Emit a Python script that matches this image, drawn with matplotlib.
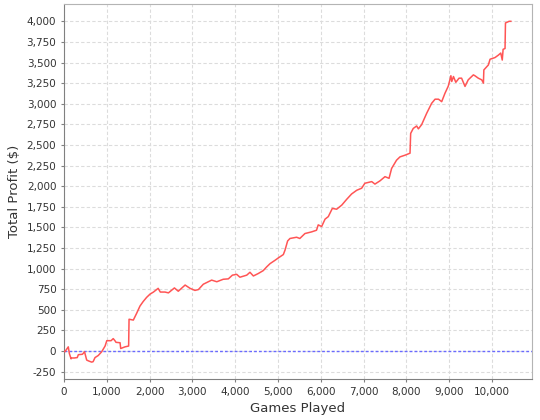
import matplotlib
matplotlib.use("Agg")
import matplotlib.pyplot as plt
from matplotlib.ticker import FuncFormatter, MultipleLocator

# values
games = [0, 20, 60, 100, 125, 165, 180, 240, 310, 335, 430, 480, 530, 570, 645,
         680, 725, 800, 880, 960, 1000, 1100, 1150, 1190, 1215, 1310, 1325, 1425,
         1500, 1510, 1520, 1620, 1700, 1775, 1850, 1930, 2010, 2090, 2200, 2250,
         2360, 2440, 2580, 2670, 2830, 2945, 3060, 3140, 3255, 3450, 3570, 3720,
         3840, 3935, 4035, 4110, 4270, 4345, 4425, 4540, 4655, 4735, 4815, 4930,
         5010, 5125, 5165, 5225, 5280, 5435, 5510, 5630, 5785, 5900, 5940, 6020,
         6100, 6175, 6270, 6370, 6490, 6605, 6720, 6840, 6955, 7030, 7190, 7265,
         7385, 7500, 7595, 7655, 7770, 7850, 7965, 8085, 8100, 8160, 8240, 8280,
         8355, 8475, 8590, 8670, 8750, 8825, 8900, 8980, 9040, 9060, 9100, 9155,
         9230, 9290, 9370, 9445, 9565, 9600, 9680, 9760, 9800, 9810, 9915, 9955,
         10070, 10150, 10205, 10240, 10260, 10305, 10315, 10400, 10440]
profit = [0, -10, 20, 50, -30, -95, -85, -85, -80, -45, -40, -10, -110, -120, -135,
          -130, -80, -55, -10, 60, 125, 125, 150, 125, 105, 100, 30, 50,
          60, 60, 385, 375, 460, 545, 600, 650, 690, 715, 760, 715,
          715, 705, 765, 725, 800, 760, 735, 745, 810, 860, 840, 870,
          875, 920, 930, 895, 920, 955, 910, 940, 975, 1020, 1060, 1100,
          1130, 1170, 1225, 1335, 1365, 1380, 1365, 1425, 1445, 1465, 1530, 1510,
          1600, 1630, 1730, 1720, 1770, 1840, 1905, 1950, 1975, 2035, 2055, 2025,
          2065, 2115, 2095, 2215, 2315, 2355, 2375, 2400, 2640, 2700, 2730, 2695,
          2745, 2885, 3005, 3055, 3055, 3025, 3125, 3215, 3340, 3270, 3330, 3260,
          3310, 3310, 3210, 3290, 3350, 3340, 3310, 3290, 3250, 3410, 3470, 3540,
          3560, 3590, 3615, 3530, 3660, 3670, 3980, 4000, 4000]

fig = plt.figure(figsize=(5.4, 4.2), dpi=100)
ax = fig.add_axes([64 / 540, 41 / 420, 468 / 540, 375 / 420])

ax.plot(games, profit, color="#ff5555", linewidth=1.1, zorder=3)
ax.axhline(0, color="#6a6aff", linewidth=1.0, linestyle=(0, (2, 1.5)), zorder=2.5)

ax.set_xlim(0, 10935)
ax.set_ylim(-340, 4210)
ax.xaxis.set_major_locator(MultipleLocator(1000))
ax.yaxis.set_major_locator(MultipleLocator(250))
fmt = FuncFormatter(lambda v, p: "{:,.0f}".format(v))
ax.xaxis.set_major_formatter(fmt)
ax.yaxis.set_major_formatter(fmt)

ax.grid(True, color="#dcdcdc", linestyle=(0, (3, 2)), linewidth=0.8)
ax.set_axisbelow(True)

for s in ["top", "right"]:
    ax.spines[s].set_color("#b4b4b4")
for s in ["left", "bottom"]:
    ax.spines[s].set_color("#808080")
ax.tick_params(axis="both", direction="out", length=2.5, width=0.8,
               color="#808080", labelsize=7.5, labelcolor="#333333", pad=3)

ax.set_xlabel("Games Played", fontsize=9.5, color="#333333", labelpad=4)
ax.set_ylabel("Total Profit ($)", fontsize=9.5, color="#333333", labelpad=4)

plt.savefig("out.png", dpi=100)
plt.close()
